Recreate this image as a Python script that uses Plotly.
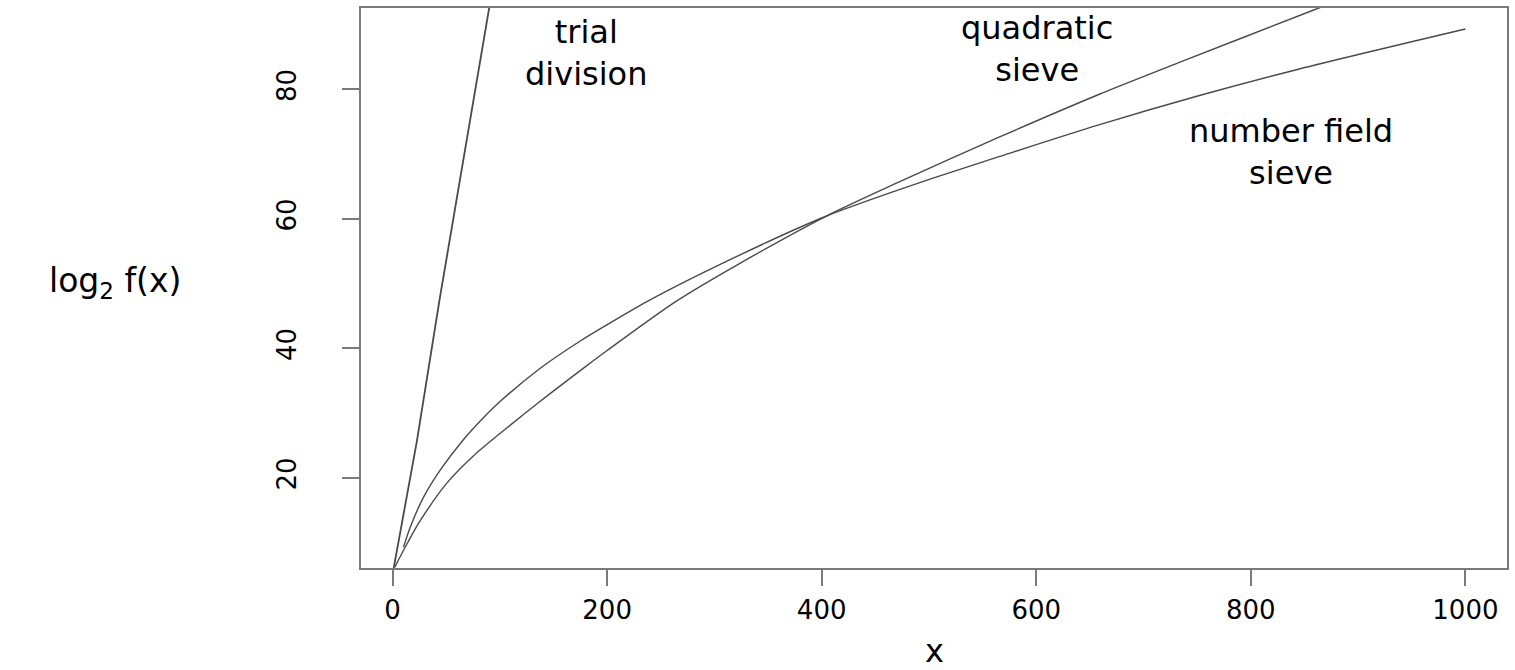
import plotly.graph_objects as go

# ---- data ----
trial_x = [1.0, 22.7, 43.6, 90.0, 93.0]
trial_y = [6.0, 25.7, 47.3, 92.5, 95.4]

qs_x = [2.0, 13.4, 25.8, 50.6, 75.3, 106.4, 137.4, 180.8, 199.4, 264.6,
        323.4, 404.0, 472.3, 565.3, 658.3, 735.8, 858.0, 880.0]
qs_y = [6.2, 9.8, 13.4, 19.2, 23.4, 27.7, 31.8, 37.3, 39.6, 47.3,
        53.1, 60.4, 65.7, 72.6, 79.2, 84.3, 92.2, 93.6]

nfs_x = [10.2, 16.5, 28.8, 44.4, 66.0, 84.7, 100.2, 137.4, 174.6, 199.4, 236.7,
         323.4, 404.0, 472.3, 509.5, 565.3, 658.3, 751.3, 844.4, 1000.0]
nfs_y = [9.3, 12.4, 17.0, 21.2, 25.9, 29.3, 31.8, 36.9, 41.1, 43.6, 47.2,
         54.4, 60.4, 64.5, 66.6, 69.6, 74.5, 79.0, 83.1, 89.3]

x_ticks = [0, 200, 400, 600, 800, 1000]
y_ticks = [20, 40, 60, 80]

labels = [  # text, x, y (data coords of the label block centre)
    ("trial<br>division", 180.6, 85.6),
    ("quadratic<br>sieve", 601.0, 86.2),
    ("number field<br>sieve", 837.5, 70.3),
]

FONT = "DejaVu Sans"
LINE = "#4a4a4a"
AXC = "#7a7a7a"

fig = go.Figure()
fig.add_trace(go.Scatter(x=trial_x, y=trial_y, mode="lines",
                         line=dict(color=LINE, width=1.8), hoverinfo="skip"))
fig.add_trace(go.Scatter(x=qs_x, y=qs_y, mode="lines",
                         line=dict(color=LINE, width=1.4, shape="spline", smoothing=0.8),
                         hoverinfo="skip"))
fig.add_trace(go.Scatter(x=nfs_x, y=nfs_y, mode="lines",
                         line=dict(color=LINE, width=1.4, shape="spline", smoothing=0.8),
                         hoverinfo="skip"))

for txt, lx, ly in labels:
    fig.add_annotation(x=lx, y=ly, xref="x", yref="y", text=txt, showarrow=False,
                       xanchor="center", yanchor="middle", align="center",
                       font=dict(family=FONT, size=32, color="black"))

fig.add_annotation(x=-0.2143, y=0.51, xref="paper", yref="paper",
                   text="log<sub>2</sub> f(x)", showarrow=False,
                   xanchor="center", yanchor="middle",
                   font=dict(family=FONT, size=33, color="black"))
fig.add_annotation(x=0.5, y=-0.149, xref="paper", yref="paper",
                   text="x", showarrow=False, xanchor="center", yanchor="middle",
                   font=dict(family=FONT, size=32, color="black"))

fig.update_xaxes(range=[-29.4, 1038.8], tickvals=x_ticks,
                 ticktext=[str(v) for v in x_ticks],
                 showgrid=False, zeroline=False, showline=True, mirror=True,
                 linecolor=AXC, linewidth=2, ticks="outside", ticklen=16,
                 tickwidth=1.5, tickcolor=AXC, ticklabelstandoff=2,
                 tickfont=dict(family=FONT, size=26, color="black"))
fig.update_yaxes(range=[6.1, 92.55], tickvals=y_ticks,
                 ticktext=[str(v) for v in y_ticks],
                 showgrid=False, zeroline=False, showline=True, mirror=True,
                 linecolor=AXC, linewidth=2, ticks="outside", ticklen=17,
                 tickwidth=1.5, tickcolor=AXC, tickangle=-90, ticklabelstandoff=36,
                 tickfont=dict(family=FONT, size=26, color="black"))

fig.update_layout(width=1515, height=670, showlegend=False, hovermode=False,
                  margin=dict(l=361, r=6, t=6, b=102),
                  paper_bgcolor="white", plot_bgcolor="white")

fig.write_html("out.html", config={"displayModeBar": False},
               post_script="document.body.style.margin='0px';"
                           "document.body.style.overflow='hidden';")
